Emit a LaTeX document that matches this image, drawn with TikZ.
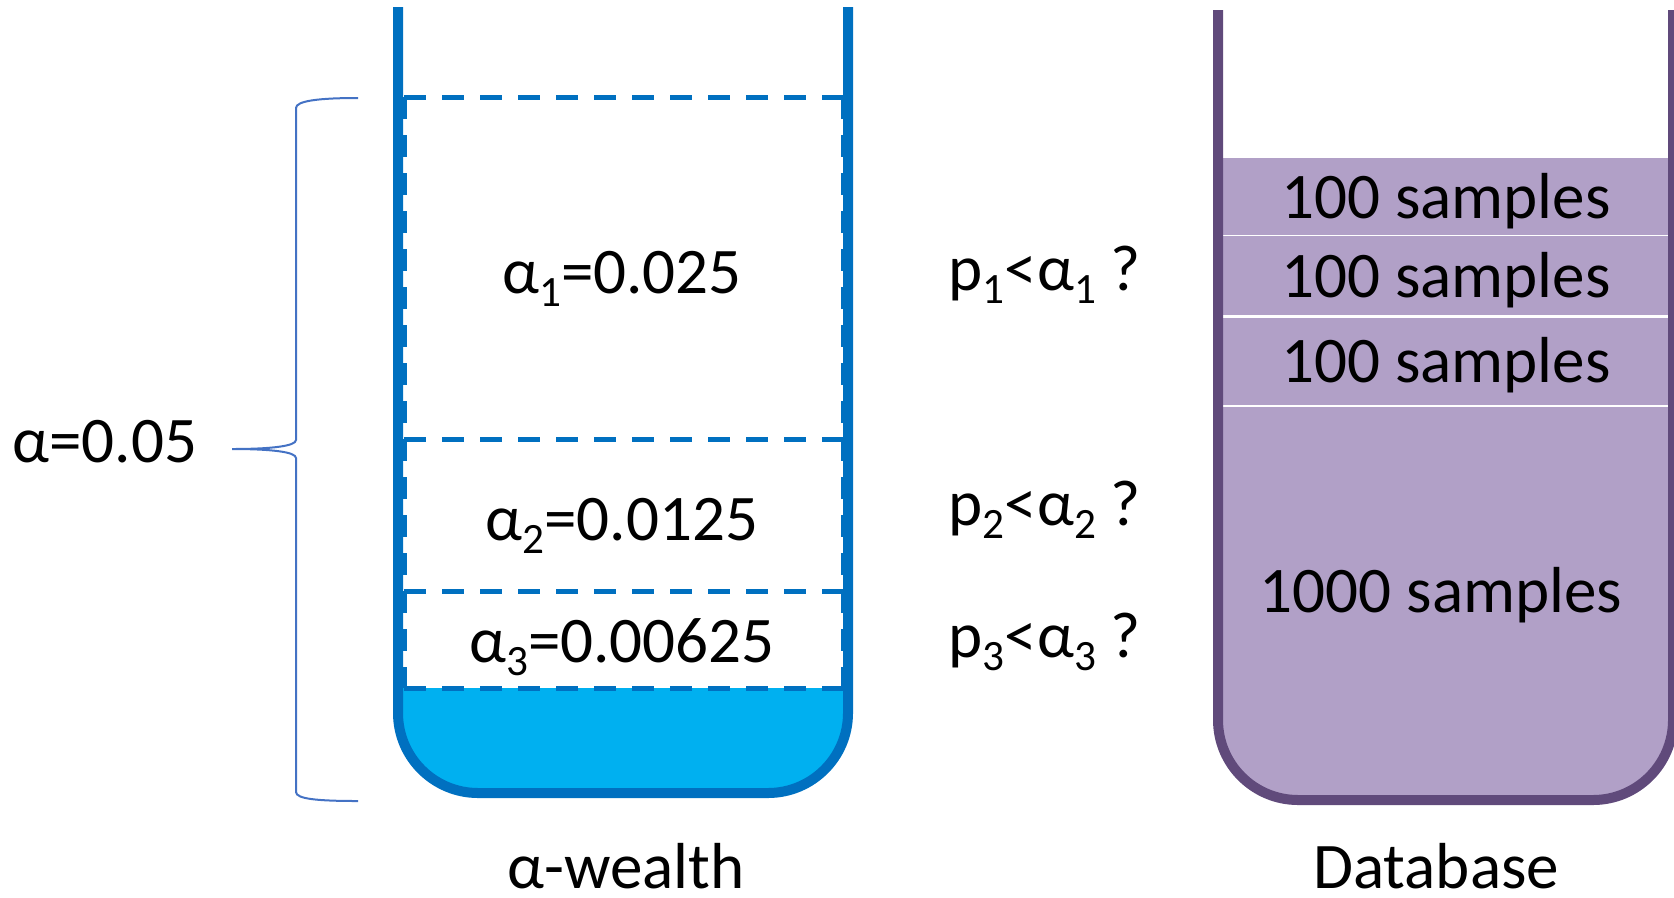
\documentclass[tikz,border=0pt]{standalone}
\usepackage{fontspec}
\setmainfont{Carlito}
\usepackage{tikz}
\definecolor{wallblue}{RGB}{0,112,192}
\definecolor{poolcyan}{RGB}{0,176,240}
\definecolor{bracecol}{RGB}{68,114,196}
\definecolor{dbwall}{RGB}{96,74,123}
\definecolor{dbfill}{RGB}{177,160,199}
\newcommand{\lowsub}[1]{\raisebox{-3.8pt}{\fontsize{12.3}{13}\selectfont #1}}

\begin{document}
\begin{tikzpicture}[x=0.01cm, y=-0.01cm,
  every node/.style={font=\fontsize{18.5}{22}\selectfont, anchor=base, inner sep=0pt},
  slot/.style={draw=wallblue, line width=0.05cm, dash pattern=on 0.22cm off 0.16cm},
  wall/.style={line width=0.1cm, rounded corners=0.8cm},
  sep/.style={white}]
\useasboundingbox (0,0) rectangle (1674,897);
\begin{scope}
\clip (0,688) rectangle (1674,897);
\fill[poolcyan, rounded corners=0.8cm] (398,600) rectangle (848,793);
\end{scope}
\foreach \y in {97,439,591,688}
  \draw[slot] (404,\y) -- (843,\y);
\draw[slot] (404,97) -- (404,688);
\draw[slot] (843,97) -- (843,688);
\draw[wall, wallblue] (398,7) -- (398,793) -- (848,793) -- (848,7);
\begin{scope}
\clip (0,158) rectangle (1674,897);
\fill[dbfill, rounded corners=0.8cm] (1218,60) rectangle (1673,800);
\end{scope}
\draw[sep, line width=0.01cm] (1221,235) -- (1668,235);
\draw[sep, line width=0.03cm] (1221,316) -- (1668,316);
\draw[sep, line width=0.02cm] (1221,406) -- (1668,406);
\draw[wall, dbwall] (1218,10) -- (1218,800) -- (1673,800) -- (1673,10);
\draw[bracecol, line width=0.02cm] (358,98) .. controls (318,98) and (296,101) .. (296,108) -- (296,440)
  .. controls (296,446) and (272,449) .. (232,449) .. controls (272,449) and (296,452) .. (296,458)
  -- (296,792) .. controls (296,799) and (318,801) .. (358,801);
\node (a1) at (622,293) {α\lowsub{1}=0.025};
\node (a2) at (622,540) {α\lowsub{2}=0.0125};
\node (a3) at (622,662) {α\lowsub{3}=0.00625};
\node[anchor=base west] (t1) at (948,290) {p\lowsub{1}<α\lowsub{1} ?};
\node[anchor=base west] (t2) at (948,525) {p\lowsub{2}<α\lowsub{2} ?};
\node[anchor=base west] (t3) at (948,657) {p\lowsub{3}<α\lowsub{3} ?};
\node (s1) at (1446,218) {100 samples};
\node (s2) at (1446,297) {100 samples};
\node (s3) at (1446,382) {100 samples};
\node (s4) at (1441,612) {1000 samples};
\node[anchor=base west] (atot) at (12,462) {α=0.05};
\node (wealth) at (626,888) {α-wealth};
\node (db) at (1436,888) {Database};
\end{tikzpicture}
\end{document}
